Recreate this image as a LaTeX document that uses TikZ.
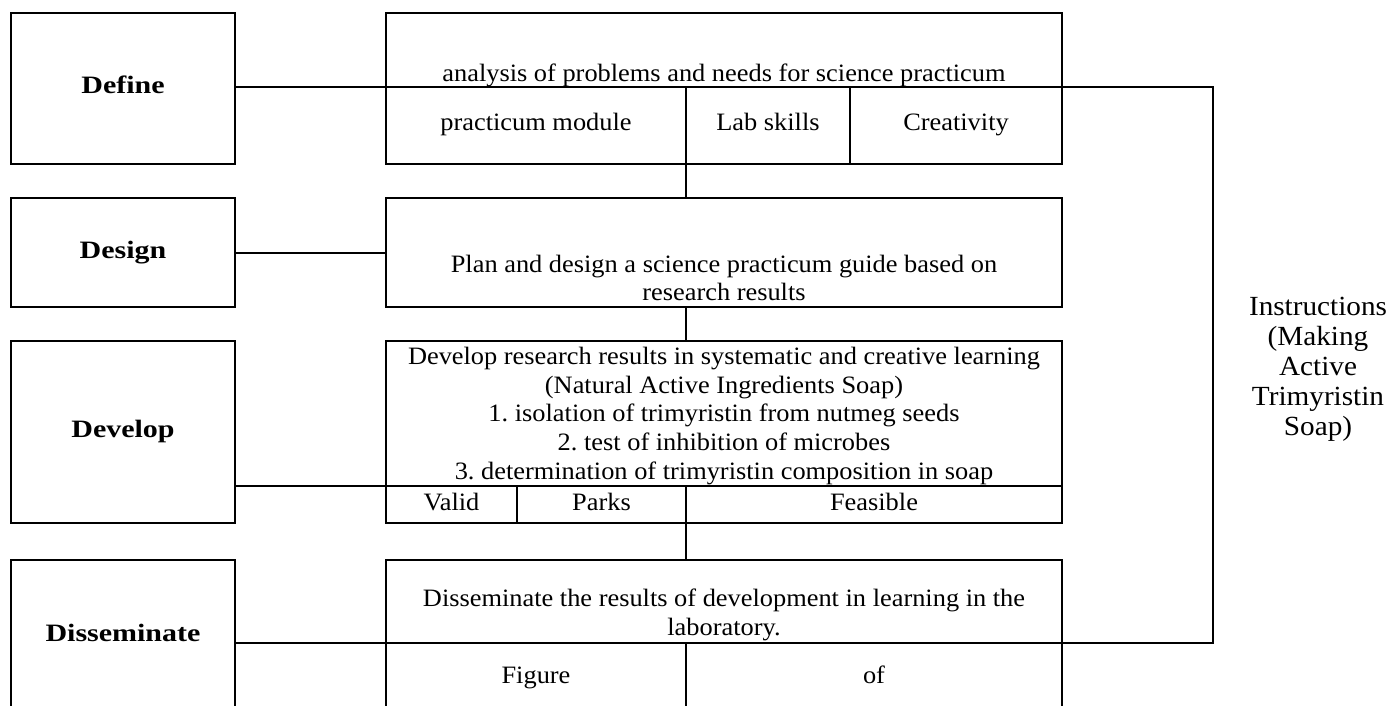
\documentclass[tikz,border=0pt]{standalone}
\usepackage{fontspec}
\setmainfont{Liberation Serif}[FakeStretch=1.055]
\newfontfamily\labelfont{Liberation Serif}[FakeStretch=1.2]
\frenchspacing
\begin{document}
\begin{tikzpicture}[x=1pt,y=-1pt,
  cell/.style={draw, line width=2pt, inner sep=0pt, outer sep=0pt, anchor=north west,
    font=\fontsize{25}{28.7}\selectfont, text height=17pt, text depth=6pt},
  stage/.style={cell, minimum width=224pt, font=\labelfont\bfseries\fontsize{25}{30}\selectfont},
  txt/.style={inner sep=0pt, align=center, font=\fontsize{25}{28.7}\selectfont},
  link/.style={line width=2pt}]
\clip (0,0) rectangle (1392,706);

% stage boxes on the left
\node[stage, minimum height=151pt] (defL) at (11,13)  {Define};
\node[stage, minimum height=109pt] (desL) at (11,198) {Design};
\node[stage, minimum height=182pt] (devL) at (11,341) {Develop};
\node[stage, minimum height=152pt] (disL) at (11,560) {Disseminate};

% Define block
\node[cell, minimum width=676pt, minimum height=74pt] (defTop) at (386,13) {};
\node[txt] (defTxt) at (724,75) {analysis of problems and needs for science practicum};
\node[cell, minimum width=300pt, minimum height=77pt] (modul) at (386,87) {practicum module};
\node[cell, minimum width=164pt, minimum height=77pt] (lab)   at (686,87) {Lab skills};
\node[cell, minimum width=212pt, minimum height=77pt] (crea)  at (850,87) {Creativity};

% Design block
\node[cell, minimum width=676pt, minimum height=109pt] (desR) at (386,198) {};
\node[txt] (desTxt) at (724,278) {Plan and design a science practicum guide based on\\research results};

% Develop block
\node[cell, minimum width=676pt, minimum height=145pt] (devTop) at (386,341) {};
\node[txt] (devTxt) at (724,416) {Develop research results in systematic and creative learning\\
  (Natural Active Ingredients Soap)\\
  1. isolation of trimyristin from nutmeg seeds\\
  2. test of inhibition of microbes\\
  3. determination of trimyristin composition in soap};
\node[cell, minimum width=131pt, minimum height=37pt] (valid) at (386,486) {Valid};
\node[cell, minimum width=169pt, minimum height=37pt] (parks) at (517,486) {Parks};
\node[cell, minimum width=376pt, minimum height=37pt] (feas)  at (686,486) {Feasible};

% Disseminate block
\node[cell, minimum width=676pt, minimum height=83pt] (disTop) at (386,560) {};
\node[txt] (disTxt) at (724,615) {Disseminate the results of development in learning in the\\laboratory.};
\node[cell, minimum width=300pt, minimum height=70pt] (fig) at (386,643) {Figure};
\node[cell, minimum width=376pt, minimum height=70pt] (of)  at (686,643) {of};

% product note on the right
\node[inner sep=0pt, align=center, font=\fontsize{27.7}{30}\selectfont] (instr) at (1318,369)
  {Instructions\\(Making\\Active\\Trimyristin\\Soap)};

% horizontal links from each stage
\draw[link] (defL.east |- defTop.south) -- (defTop.south west);
\draw[link] (desL.east) -- (desL.east -| desR.west);
\draw[link] (devL.east |- valid.north) -- (valid.north west);
\draw[link] (disL.east |- fig.north) -- (fig.north west);

% vertical chain between the blocks
\draw[link] (lab.south west) -- (lab.south west |- desR.north);
\draw[link] (desR.south -| feas.west) -- (devTop.north -| feas.west);
\draw[link] (feas.south west) -- (feas.south west |- disTop.north);

% bracket from Define to Disseminate
\coordinate (brk) at (1213,87);
\draw[link] (defTop.south east) -- (brk) |- (disTop.south east);
\end{tikzpicture}
\end{document}
